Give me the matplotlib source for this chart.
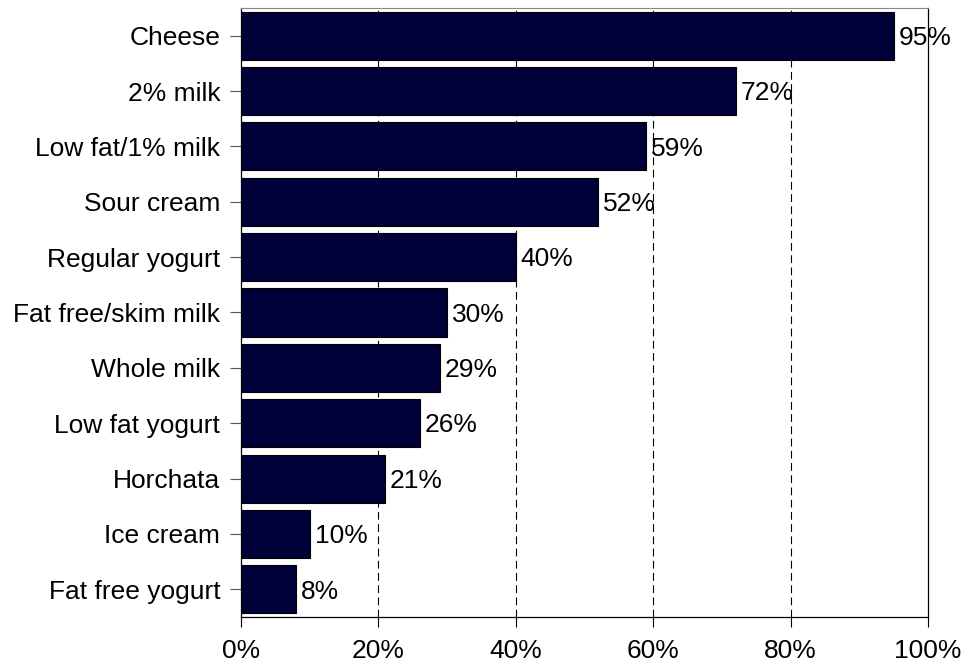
import numpy as np
import matplotlib.pyplot as plt
from matplotlib.ticker import PercentFormatter

plt.rcParams['font.family'] = ['Liberation Sans', 'DejaVu Sans']

# data
categories = ["Cheese", "2% milk", "Low fat/1% milk", "Sour cream", "Regular yogurt",
              "Fat free/skim milk", "Whole milk", "Low fat yogurt", "Horchata",
              "Ice cream", "Fat free yogurt"]
values = [95, 72, 59, 52, 40, 30, 29, 26, 21, 10, 8]
xticks = [0, 20, 40, 60, 80, 100]

fig = plt.figure(figsize=(9.64, 6.64), dpi=100)
ax = fig.add_axes([241/964, 1-617/664, (928-241)/964, (617-8)/664])

y = np.arange(len(categories))
ax.barh(y, values, height=0.87, color='#000038', edgecolor='black', linewidth=0.8, zorder=3)
for yi, v in zip(y, values):
    ax.text(v + 0.7, yi + 0.04, f"{v}%", va='center', ha='left', fontsize=19, zorder=4)

ax.set_ylim(len(categories) - 0.5, -0.5)
ax.set_xlim(0, 100)
ax.set_yticks(y)
ax.set_yticklabels(categories, fontsize=19)
ax.set_xticks(xticks)
ax.xaxis.set_major_formatter(PercentFormatter(decimals=0))
ax.tick_params(axis='x', labelsize=19, length=7, pad=9, width=0.8)
ax.tick_params(axis='y', length=8, pad=7, width=0.8, color='#555555')

for xv in xticks[1:-1]:
    ax.axvline(xv, color='black', linestyle=(0, (7, 4)), linewidth=0.8, zorder=1)

ax.spines['top'].set_color('#888888')
ax.spines['top'].set_linewidth(0.8)
for s in ['left', 'bottom', 'right']:
    ax.spines[s].set_linewidth(0.9)

plt.savefig('out.png', dpi=100)
